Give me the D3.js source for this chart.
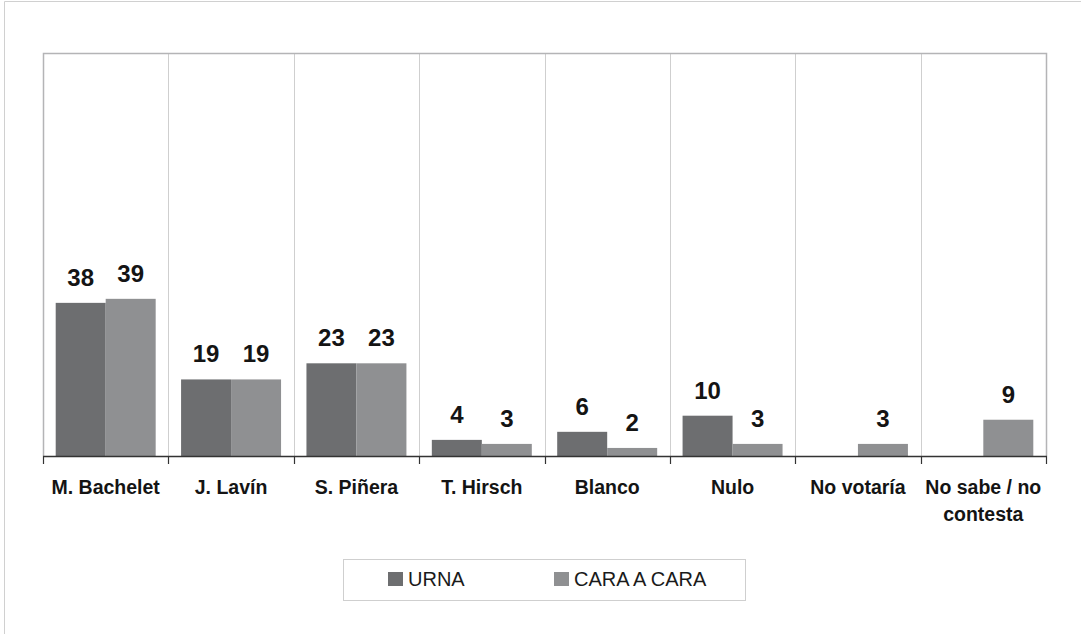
<!DOCTYPE html>
<html>
<head>
<meta charset="utf-8">
<script src="https://cdn.jsdelivr.net/npm/d3@7"></script>
<style>
  html, body { margin: 0; padding: 0; background: #ffffff; }
  svg { display: block; font-family: "Liberation Sans", Arial, sans-serif; }
</style>
</head>
<body>
<svg id="chart" width="1081" height="634"></svg>
<script>
// Intención de voto: urna vs. cara a cara
const categories = [
  ["M. Bachelet"], ["J. Lavín"], ["S. Piñera"], ["T. Hirsch"],
  ["Blanco"], ["Nulo"], ["No votaría"], ["No sabe / no", "contesta"]
];
const seriesNames = ["URNA", "CARA A CARA"];
const urna      = [38, 19, 23, 4, 6, 10, null, null];
const caraACara = [39, 19, 23, 3, 2, 3, 3, 9];
const colors = ["#6d6e70", "#8f9092"];

const svg = d3.select("#chart");
const W = 1081, H = 634;

// outer frame (left and top edges visible)
svg.append("line").attr("x1", 4.5).attr("x2", 4.5).attr("y1", 1.5).attr("y2", H)
  .attr("stroke", "#d0d0d0").attr("stroke-width", 1);
svg.append("line").attr("x1", 4.5).attr("x2", W).attr("y1", 1.5).attr("y2", 1.5)
  .attr("stroke", "#d0d0d0").attr("stroke-width", 1);

const plot = { left: 43, top: 53, right: 1046, bottom: 456 };

const keys = categories.map(c => c.join(" "));
const x0 = d3.scaleBand().domain(keys).range([plot.left, plot.right]).padding(0);
const x1 = d3.scaleBand().domain(seriesNames).range([0, x0.bandwidth()])
  .paddingInner(0).paddingOuter(0.254);
const y = d3.scaleLinear().domain([0, 100]).range([plot.bottom, plot.top]);

// vertical gridlines between categories
const g = svg.append("g");
g.selectAll("line.grid")
  .data(keys.slice(1))
  .join("line")
  .attr("class", "grid")
  .attr("x1", d => Math.round(x0(d)) + 0.5)
  .attr("x2", d => Math.round(x0(d)) + 0.5)
  .attr("y1", plot.top)
  .attr("y2", plot.bottom)
  .attr("stroke", "#cfcfcf")
  .attr("stroke-width", 1);

// plot border (left, top, right)
g.append("path")
  .attr("d", `M${plot.left + 0.5},${plot.bottom} V${plot.top + 0.5} H${plot.right + 0.5} V${plot.bottom}`)
  .attr("fill", "none")
  .attr("stroke", "#b4b4b6")
  .attr("stroke-width", 1.5);

// bars
const rows = keys.map((k, i) => ({
  key: k,
  values: [
    { name: seriesNames[0], value: urna[i], color: colors[0] },
    { name: seriesNames[1], value: caraACara[i], color: colors[1] }
  ].filter(v => v.value != null)
}));

const groups = g.selectAll("g.cat")
  .data(rows)
  .join("g")
  .attr("class", "cat")
  .attr("transform", d => `translate(${x0(d.key)},0)`);

groups.selectAll("rect")
  .data(d => d.values)
  .join("rect")
  .attr("x", d => x1(d.name))
  .attr("width", x1.bandwidth())
  .attr("y", d => y(d.value))
  .attr("height", d => y(0) - y(d.value))
  .attr("fill", d => d.color);

groups.selectAll("text.val")
  .data(d => d.values)
  .join("text")
  .attr("class", "val")
  .attr("x", d => x1(d.name) + x1.bandwidth() / 2)
  .attr("y", d => y(d.value) - 17)
  .attr("text-anchor", "middle")
  .attr("font-size", 24)
  .attr("font-weight", "bold")
  .attr("fill", "#141414")
  .text(d => d.value);

// category axis
const axisG = svg.append("g").attr("transform", `translate(0,${plot.bottom})`);
axisG.append("line")
  .attr("x1", plot.left).attr("x2", plot.right + 1)
  .attr("y1", 0.5).attr("y2", 0.5)
  .attr("stroke", "#333333").attr("stroke-width", 1.5);
const tickPos = keys.map(k => x0(k)).concat([plot.right]);
axisG.selectAll("line.tick")
  .data(tickPos)
  .join("line")
  .attr("class", "tick")
  .attr("x1", d => Math.round(d) + 0.5)
  .attr("x2", d => Math.round(d) + 0.5)
  .attr("y1", 0).attr("y2", 8)
  .attr("stroke", "#333333").attr("stroke-width", 1.2);

const labels = axisG.selectAll("text.cat")
  .data(categories.map((c, i) => ({ lines: c, key: keys[i] })))
  .join("text")
  .attr("class", "cat")
  .attr("x", d => x0(d.key) + x0.bandwidth() / 2)
  .attr("y", 38)
  .attr("text-anchor", "middle")
  .attr("font-size", 19.5)
  .attr("font-weight", "bold")
  .attr("fill", "#141414");
labels.selectAll("tspan")
  .data(d => d.lines.map(l => ({ l, x: x0(d.key) + x0.bandwidth() / 2 })))
  .join("tspan")
  .attr("x", d => d.x)
  .attr("dy", (d, i) => i === 0 ? 0 : 27)
  .text(d => d.l);

// legend
const legend = svg.append("g");
legend.append("rect")
  .attr("x", 343.5).attr("y", 559.5)
  .attr("width", 402).attr("height", 41)
  .attr("fill", "#ffffff")
  .attr("stroke", "#cfcfcf").attr("stroke-width", 1);
const legendX = [388, 554];
seriesNames.forEach((name, i) => {
  legend.append("rect")
    .attr("x", legendX[i]).attr("y", 572)
    .attr("width", 15).attr("height", 14)
    .attr("fill", colors[i]);
  legend.append("text")
    .attr("x", legendX[i] + 20).attr("y", 586)
    .attr("font-size", 20)
    .attr("fill", "#1a1a1a")
    .text(name);
});
</script>
</body>
</html>
